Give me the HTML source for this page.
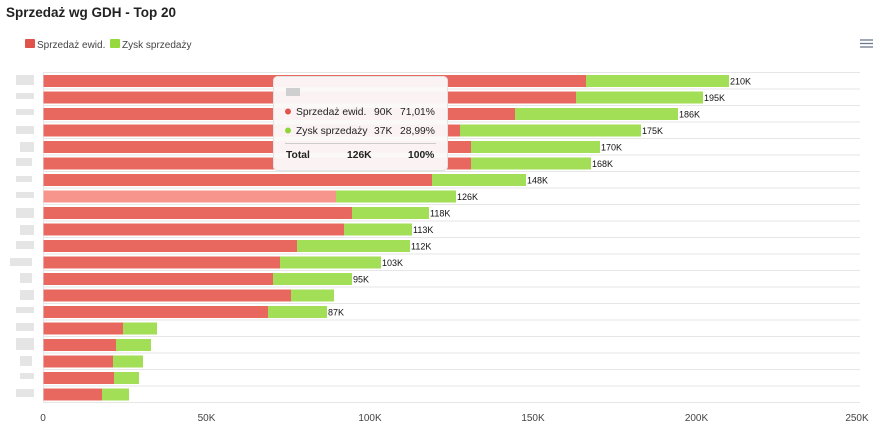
<!DOCTYPE html>
<html><head><meta charset="utf-8"><style>
body{margin:0;background:#fff;width:885px;height:431px;overflow:hidden;font-family:"Liberation Sans",sans-serif}
svg text{font-family:"Liberation Sans",sans-serif}
</style></head><body>
<svg width="885" height="431" xmlns="http://www.w3.org/2000/svg">
<text x="6" y="17" font-size="13.5" font-weight="bold" fill="#222">Sprzedaż wg GDH - Top 20</text>
<rect x="25" y="39" width="10" height="9" fill="#e0524a" rx="1"/>
<text x="37" y="48" font-size="10" fill="#444">Sprzedaż ewid.</text>
<rect x="110" y="39" width="10" height="9" fill="#96d93e" rx="1"/>
<text x="122" y="48" font-size="10" fill="#444">Zysk sprzedaży</text>
<g stroke="#6b7a8c" stroke-width="1.3"><line x1="860" y1="40" x2="873" y2="40"/><line x1="860" y1="43.5" x2="873" y2="43.5"/><line x1="860" y1="47" x2="873" y2="47"/></g>
<g stroke="#e6e6e6" stroke-width="1">
<line x1="43" y1="72.5" x2="860" y2="72.5"/><line x1="43" y1="89" x2="860" y2="89"/><line x1="43" y1="105.5" x2="860" y2="105.5"/><line x1="43" y1="122" x2="860" y2="122"/><line x1="43" y1="138.5" x2="860" y2="138.5"/><line x1="43" y1="155" x2="860" y2="155"/><line x1="43" y1="171.5" x2="860" y2="171.5"/><line x1="43" y1="188" x2="860" y2="188"/><line x1="43" y1="204.5" x2="860" y2="204.5"/><line x1="43" y1="221" x2="860" y2="221"/><line x1="43" y1="237.5" x2="860" y2="237.5"/><line x1="43" y1="254" x2="860" y2="254"/><line x1="43" y1="270.5" x2="860" y2="270.5"/><line x1="43" y1="287" x2="860" y2="287"/><line x1="43" y1="303.5" x2="860" y2="303.5"/><line x1="43" y1="320" x2="860" y2="320"/><line x1="43" y1="336.5" x2="860" y2="336.5"/><line x1="43" y1="353" x2="860" y2="353"/><line x1="43" y1="369.5" x2="860" y2="369.5"/><line x1="43" y1="386" x2="860" y2="386"/><line x1="43" y1="402.5" x2="860" y2="402.5"/>
<line x1="43.5" y1="72" x2="43.5" y2="403"/>
</g>
<g fill="#e5e5e5">
<rect x="16" y="75" width="18" height="10"/><rect x="16" y="93" width="18" height="6"/><rect x="16" y="109" width="18" height="6"/><rect x="16" y="126" width="18" height="8"/><rect x="20" y="142" width="14" height="10"/><rect x="16" y="158" width="16" height="8"/><rect x="16" y="176" width="16" height="6"/><rect x="16" y="192" width="18" height="6"/><rect x="16" y="208" width="18" height="10"/><rect x="20" y="225" width="14" height="10"/><rect x="16" y="241" width="18" height="8"/><rect x="10" y="258" width="22" height="8"/><rect x="20" y="273" width="12" height="10"/><rect x="20" y="290" width="14" height="10"/><rect x="16" y="307" width="18" height="6"/><rect x="16" y="323" width="18" height="8"/><rect x="16" y="338" width="18" height="12"/><rect x="20" y="356" width="12" height="10"/><rect x="20" y="373" width="14" height="6"/><rect x="16" y="389" width="18" height="8"/>
</g>
<g fill="#e8685f">
<rect x="43.5" y="75" width="542.5" height="12"/><rect x="43.5" y="91.5" width="532.5" height="12"/><rect x="43.5" y="108" width="471.5" height="12"/><rect x="43.5" y="124.5" width="416.5" height="12"/><rect x="43.5" y="141" width="427.5" height="12"/><rect x="43.5" y="157.5" width="427.5" height="12"/><rect x="43.5" y="174" width="388.5" height="12"/>
<rect x="43.5" y="190.5" width="292.5" height="12" fill="#f7958c"/>
<rect x="43.5" y="207" width="308.5" height="12"/><rect x="43.5" y="223.5" width="300.5" height="12"/><rect x="43.5" y="240" width="253.5" height="12"/><rect x="43.5" y="256.5" width="236.5" height="12"/><rect x="43.5" y="273" width="229.5" height="12"/><rect x="43.5" y="289.5" width="247.5" height="12"/><rect x="43.5" y="306" width="224.5" height="12"/><rect x="43.5" y="322.5" width="79.5" height="12"/><rect x="43.5" y="339" width="72.5" height="12"/><rect x="43.5" y="355.5" width="69.5" height="12"/><rect x="43.5" y="372" width="70.5" height="12"/><rect x="43.5" y="388.5" width="58.5" height="12"/>
</g>
<g fill="#a2de56">
<rect x="586" y="75" width="143" height="12"/><rect x="576" y="91.5" width="127" height="12"/><rect x="515" y="108" width="163" height="12"/><rect x="460" y="124.5" width="181" height="12"/><rect x="471" y="141" width="129" height="12"/><rect x="471" y="157.5" width="120" height="12"/><rect x="432" y="174" width="94" height="12"/><rect x="336" y="190.5" width="120" height="12"/><rect x="352" y="207" width="77" height="12"/><rect x="344" y="223.5" width="68" height="12"/><rect x="297" y="240" width="113" height="12"/><rect x="280" y="256.5" width="101" height="12"/><rect x="273" y="273" width="79" height="12"/><rect x="291" y="289.5" width="43" height="12"/><rect x="268" y="306" width="59" height="12"/><rect x="123" y="322.5" width="34" height="12"/><rect x="116" y="339" width="35" height="12"/><rect x="113" y="355.5" width="30" height="12"/><rect x="114" y="372" width="25" height="12"/><rect x="102" y="388.5" width="27" height="12"/>
</g>
<g font-size="9" fill="#111">
<text x="730" y="84.5">210K</text><text x="704" y="101">195K</text><text x="679" y="117.5">186K</text><text x="642" y="134">175K</text><text x="601" y="150.5">170K</text><text x="592" y="167">168K</text><text x="527" y="183.5">148K</text><text x="457" y="200">126K</text><text x="430" y="216.5">118K</text><text x="413" y="233">113K</text><text x="411" y="249.5">112K</text><text x="382" y="266">103K</text><text x="353" y="282.5">95K</text><text x="328" y="315.5">87K</text>
</g>
<g font-size="10" fill="#444" text-anchor="middle">
<text x="43" y="421">0</text><text x="206.5" y="421">50K</text><text x="370" y="421">100K</text><text x="533" y="421">150K</text><text x="696.5" y="421">200K</text><text x="857" y="421">250K</text>
</g>
<rect x="273.5" y="76.5" width="174" height="94" rx="4" fill="#fbf8f8" fill-opacity="0.97" stroke="#e2e2e2"/>
<rect x="286" y="88" width="14" height="8" fill="#cfcfcf"/>
<circle cx="288" cy="111.5" r="3" fill="#e0524a"/>
<circle cx="288" cy="130.5" r="3" fill="#8fd63a"/>
<g font-size="10.3" fill="#222">
<text x="296" y="115">Sprzedaż ewid.</text><text x="374" y="115">90K</text><text x="400" y="115">71,01%</text>
<text x="296" y="134">Zysk sprzedaży</text><text x="374" y="134">37K</text><text x="400" y="134">28,99%</text>
</g>
<line x1="285" y1="143.5" x2="436" y2="143.5" stroke="#ccc"/>
<g font-size="10.3" font-weight="bold" fill="#222">
<text x="286" y="158">Total</text><text x="347" y="158">126K</text><text x="408" y="158">100%</text>
</g>
</svg>
</body></html>
